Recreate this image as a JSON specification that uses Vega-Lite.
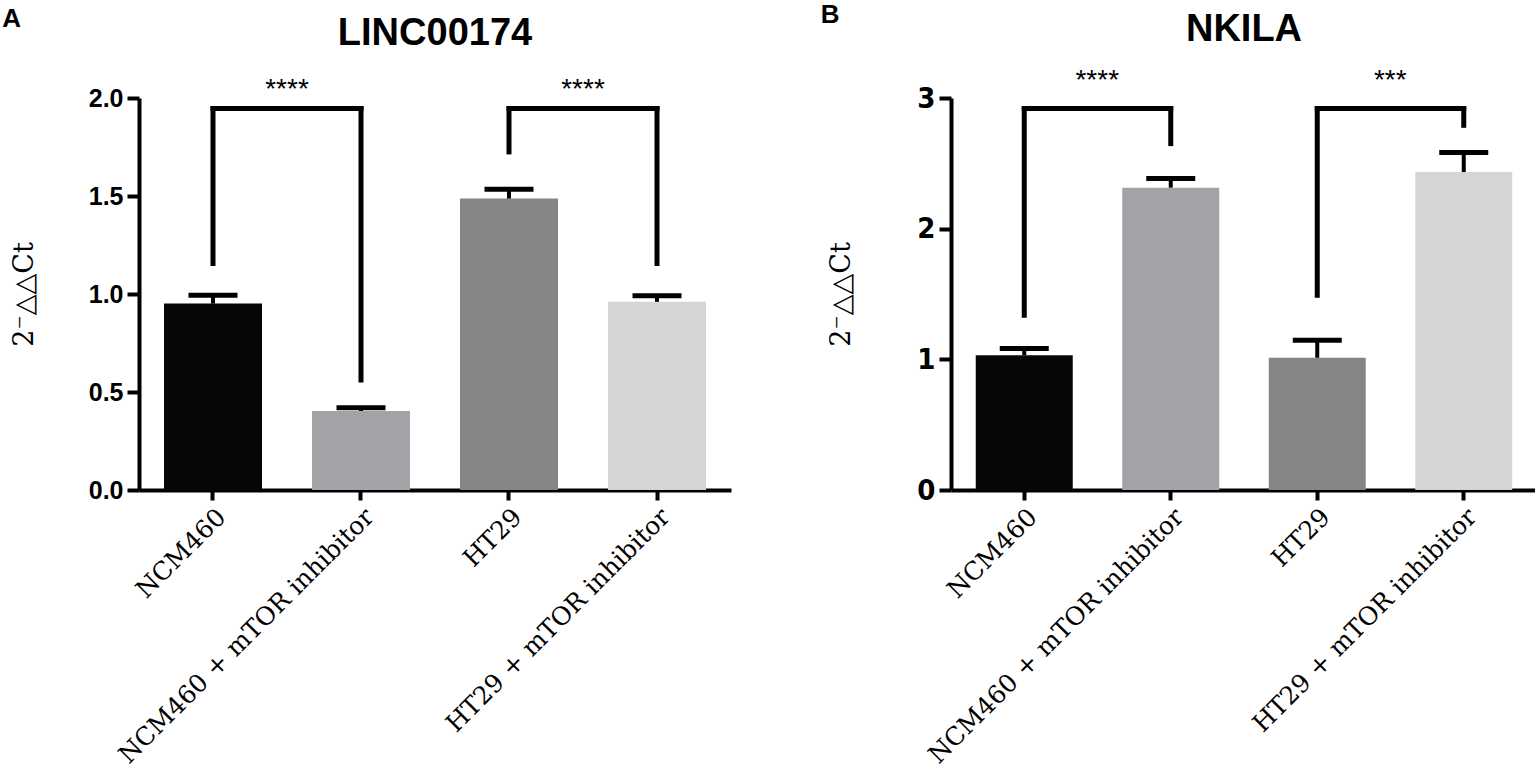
{
  "$schema": "https://vega.github.io/schema/vega-lite/v6.json",
  "background": "white",
  "padding": {"left": 2, "top": 1, "right": 0, "bottom": 0},
  "datasets": {
    "barsA": [
      {"group": "NCM460", "mean": 0.951, "hi": 0.994},
      {"group": "NCM460 + mTOR inhibitor", "mean": 0.403, "hi": 0.42},
      {"group": "HT29", "mean": 1.487, "hi": 1.534},
      {"group": "HT29 + mTOR inhibitor", "mean": 0.96, "hi": 0.991}
    ],
    "legsA": [
      {"group": "NCM460", "end": 1.155, "top": 1.946},
      {"group": "NCM460 + mTOR inhibitor", "end": 0.561, "top": 1.946},
      {"group": "HT29", "end": 1.725, "top": 1.946},
      {"group": "HT29 + mTOR inhibitor", "end": 1.155, "top": 1.946}
    ],
    "spansA": [
      {"from": "NCM460", "to": "NCM460 + mTOR inhibitor", "top": 1.946, "label": "****"},
      {"from": "HT29", "to": "HT29 + mTOR inhibitor", "top": 1.946, "label": "****"}
    ],
    "barsB": [
      {"group": "NCM460", "mean": 1.032, "hi": 1.083},
      {"group": "NCM460 + mTOR inhibitor", "mean": 2.314, "hi": 2.383},
      {"group": "HT29", "mean": 1.012, "hi": 1.147},
      {"group": "HT29 + mTOR inhibitor", "mean": 2.434, "hi": 2.582}
    ],
    "legsB": [
      {"group": "NCM460", "end": 1.338, "top": 2.919},
      {"group": "NCM460 + mTOR inhibitor", "end": 2.651, "top": 2.919},
      {"group": "HT29", "end": 1.491, "top": 2.919},
      {"group": "HT29 + mTOR inhibitor", "end": 2.791, "top": 2.919}
    ],
    "spansB": [
      {"from": "NCM460", "to": "NCM460 + mTOR inhibitor", "top": 2.919, "label": "****"},
      {"from": "HT29", "to": "HT29 + mTOR inhibitor", "top": 2.919, "label": "***"}
    ]
  },
  "hconcat": [
    {
      "title": {"text": "A", "anchor": "start", "frame": "bounds", "fontSize": 26, "dx": -8, "offset": -17},
      "hconcat": [
        {
          "width": 592,
          "height": 392,
          "title": {"text": "LINC00174", "fontSize": 38, "offset": 23},
          "layer": [
            {
              "data": {"name": "barsA"},
              "mark": {"type": "bar", "size": 98},
              "encoding": {
                "x": {"field": "group", "type": "nominal", "title": null,
                      "scale": {"domain": ["NCM460", "NCM460 + mTOR inhibitor", "HT29", "HT29 + mTOR inhibitor"], "paddingInner": 0.34, "paddingOuter": 0.17}},
                "y": {"field": "mean", "type": "quantitative", "title": "2⁻△△Ct",
                      "scale": {"domain": [0, 2], "nice": false}, "axis": {"values": [0, 0.5, 1, 1.5, 2], "format": ".1f"}},
                "color": {"field": "group", "type": "nominal", "legend": null,
                          "scale": {"domain": ["NCM460", "NCM460 + mTOR inhibitor", "HT29", "HT29 + mTOR inhibitor"], "range": ["#050708", "#a2a3a6", "#848584", "#d4d5d5"]}}
              }
            },
            {
              "data": {"name": "barsA"},
              "mark": {"type": "rule", "strokeWidth": 4, "color": "black"},
              "encoding": {
                "x": {"field": "group", "type": "nominal"},
                "y": {"field": "mean", "type": "quantitative"},
                "y2": {"field": "hi"}
              }
            },
            {
              "data": {"name": "barsA"},
              "mark": {"type": "tick", "thickness": 5, "size": 49, "color": "black", "opacity": 1},
              "encoding": {
                "x": {"field": "group", "type": "nominal"},
                "y": {"field": "hi", "type": "quantitative"}
              }
            },
            {
              "data": {"name": "legsA"},
              "mark": {"type": "rule", "strokeWidth": 5, "color": "black", "strokeCap": "square"},
              "encoding": {
                "x": {"field": "group", "type": "nominal"},
                "y": {"field": "end", "type": "quantitative"},
                "y2": {"field": "top"}
              }
            },
            {
              "data": {"name": "spansA"},
              "mark": {"type": "rule", "strokeWidth": 5, "color": "black", "strokeCap": "square"},
              "encoding": {
                "x": {"field": "from", "type": "nominal"},
                "x2": {"field": "to"},
                "y": {"field": "top", "type": "quantitative"}
              }
            },
            {
              "data": {"name": "spansA"},
              "mark": {"type": "text", "fontSize": 28, "font": "Liberation Sans", "dx": 74, "dy": -5, "baseline": "bottom", "align": "center", "color": "black"},
              "encoding": {
                "x": {"field": "from", "type": "nominal"},
                "y": {"field": "top", "type": "quantitative"},
                "text": {"field": "label"}
              }
            }
          ]
        }
      ]
    },
    {
      "title": {"text": "B", "anchor": "start", "frame": "bounds", "fontSize": 26, "dx": -7, "offset": -17},
      "hconcat": [
        {
          "width": 586,
          "height": 392,
          "title": {"text": "NKILA", "fontSize": 38, "offset": 18},
          "layer": [
            {
              "data": {"name": "barsB"},
              "mark": {"type": "bar", "size": 97},
              "encoding": {
                "x": {"field": "group", "type": "nominal", "title": null,
                      "scale": {"domain": ["NCM460", "NCM460 + mTOR inhibitor", "HT29", "HT29 + mTOR inhibitor"], "paddingInner": 0.34, "paddingOuter": 0.17}},
                "y": {"field": "mean", "type": "quantitative", "title": "2⁻△△Ct",
                      "scale": {"domain": [0, 3], "nice": false},
                      "axis": {"values": [0, 1, 2, 3], "format": "d", "labelFont": "DejaVu Sans Condensed, Liberation Sans", "labelFontSize": 29, "titlePadding": 61}},
                "color": {"field": "group", "type": "nominal", "legend": null,
                          "scale": {"domain": ["NCM460", "NCM460 + mTOR inhibitor", "HT29", "HT29 + mTOR inhibitor"], "range": ["#050708", "#a2a3a6", "#848584", "#d4d5d5"]}}
              }
            },
            {
              "data": {"name": "barsB"},
              "mark": {"type": "rule", "strokeWidth": 4, "color": "black"},
              "encoding": {
                "x": {"field": "group", "type": "nominal"},
                "y": {"field": "mean", "type": "quantitative"},
                "y2": {"field": "hi"}
              }
            },
            {
              "data": {"name": "barsB"},
              "mark": {"type": "tick", "thickness": 5, "size": 49, "color": "black", "opacity": 1},
              "encoding": {
                "x": {"field": "group", "type": "nominal"},
                "y": {"field": "hi", "type": "quantitative"}
              }
            },
            {
              "data": {"name": "legsB"},
              "mark": {"type": "rule", "strokeWidth": 5, "color": "black", "strokeCap": "square"},
              "encoding": {
                "x": {"field": "group", "type": "nominal"},
                "y": {"field": "end", "type": "quantitative"},
                "y2": {"field": "top"}
              }
            },
            {
              "data": {"name": "spansB"},
              "mark": {"type": "rule", "strokeWidth": 5, "color": "black", "strokeCap": "square"},
              "encoding": {
                "x": {"field": "from", "type": "nominal"},
                "x2": {"field": "to"},
                "y": {"field": "top", "type": "quantitative"}
              }
            },
            {
              "data": {"name": "spansB"},
              "mark": {"type": "text", "fontSize": 28, "font": "Liberation Sans", "dx": 73, "dy": -14, "baseline": "bottom", "align": "center", "color": "black"},
              "encoding": {
                "x": {"field": "from", "type": "nominal"},
                "y": {"field": "top", "type": "quantitative"},
                "text": {"field": "label"}
              }
            }
          ]
        }
      ]
    }
  ],
  "spacing": 89,
  "config": {
    "view": {"stroke": null},
    "font": "Liberation Sans",
    "title": {"font": "Liberation Sans", "fontWeight": "bold", "color": "black"},
    "axis": {
      "grid": false,
      "domainColor": "black",
      "domainWidth": 4,
      "tickColor": "black",
      "tickWidth": 4,
      "labelColor": "black",
      "titleColor": "black"
    },
    "axisY": {
      "tickSize": 12,
      "labelFont": "Liberation Sans",
      "labelFontWeight": "bold",
      "labelFontSize": 25,
      "labelPadding": 4,
      "titleFont": "DejaVu Serif",
      "titleFontWeight": "normal",
      "titleFontSize": 27,
      "titlePadding": 50
    },
    "axisX": {
      "tickSize": 10,
      "labelAngle": -45,
      "labelFont": "DejaVu Serif",
      "labelFontSize": 25,
      "labelPadding": 4,
      "labelLimit": 500
    }
  }
}
